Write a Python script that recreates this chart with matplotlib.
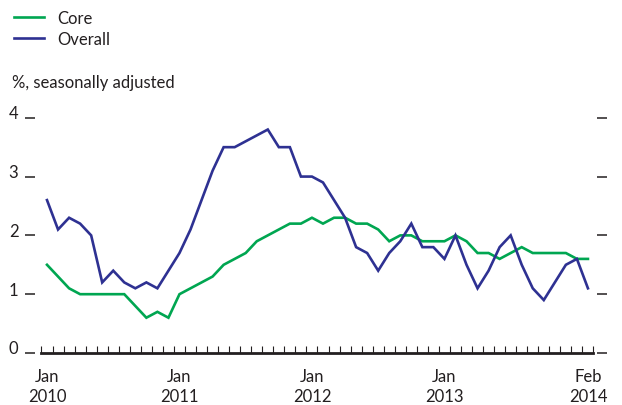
import matplotlib
matplotlib.use("Agg")
import matplotlib.pyplot as plt
import matplotlib.transforms as mtransforms
import numpy as np

# Monthly data, Jan 2010 - Feb 2014
core = [1.5, 1.3, 1.1, 1.0, 1.0, 1.0, 1.0, 1.0, 0.8, 0.6, 0.7, 0.6,
        1.0, 1.1, 1.2, 1.3, 1.5, 1.6, 1.7, 1.9, 2.0, 2.1, 2.2, 2.2,
        2.3, 2.2, 2.3, 2.3, 2.2, 2.2, 2.1, 1.9, 2.0, 2.0, 1.9, 1.9,
        1.9, 2.0, 1.9, 1.7, 1.7, 1.6, 1.7, 1.8, 1.7, 1.7, 1.7, 1.7,
        1.6, 1.6]
overall = [2.6, 2.1, 2.3, 2.2, 2.0, 1.2, 1.4, 1.2, 1.1, 1.2, 1.1, 1.4,
           1.7, 2.1, 2.6, 3.1, 3.5, 3.5, 3.6, 3.7, 3.8, 3.5, 3.5, 3.0,
           3.0, 2.9, 2.6, 2.3, 1.8, 1.7, 1.4, 1.7, 1.9, 2.2, 1.8, 1.8,
           1.6, 2.0, 1.5, 1.1, 1.4, 1.8, 2.0, 1.5, 1.1, 0.9, 1.2, 1.5,
           1.6, 1.1]
xtick_pos = [0, 12, 24, 36, 49]
xtick_labels = ["Jan\n2010", "Jan\n2011", "Jan\n2012", "Jan\n2013", "Feb\n2014"]
yticks = [0, 1, 2, 3, 4]

plt.rcParams['font.family'] = ['Lato', 'DejaVu Sans']
text_color = '#231f20'
green = '#00a651'
blue = '#2e3192'
fs = 12

W, H = 622, 406
fig = plt.figure(figsize=(W / 100, H / 100), dpi=100)
ax_left, ax_right = 35, 597
ax_bottom, ax_top = 354, 107
ax = fig.add_axes([ax_left / W, 1 - ax_bottom / H, (ax_right - ax_left) / W, (ax_bottom - ax_top) / H])

x = np.arange(len(core))
ax.plot(x, core, color=green, lw=1.9, label='Core', solid_joinstyle='miter')
ax.plot(x, overall, color=blue, lw=1.9, label='Overall', solid_joinstyle='miter')

ax.set_xlim(-1.087, 49.82)
ax.set_ylim(0, 4.2)

for s in ['top', 'left', 'right']:
    ax.spines[s].set_visible(False)
ax.spines['bottom'].set_bounds(-0.5, 49.5)
ax.spines['bottom'].set_linewidth(2.0)
ax.spines['bottom'].set_color(text_color)

ax.set_xticks(xtick_pos)
ax.set_xticklabels(xtick_labels, fontsize=fs, color=text_color, linespacing=1.3)
ax.set_xticks(np.arange(-0.5, 50, 1), minor=True)
ax.tick_params(axis='x', which='major', length=0, pad=11)
ax.tick_params(axis='x', which='minor', direction='in', length=5, width=0.8, color=text_color)

ax.set_yticks(yticks)
ax.set_yticklabels([str(v) for v in yticks], fontsize=fs, color=text_color)
ax.tick_params(axis='y', which='major', direction='out', length=7, width=1.1, color=text_color,
               left=True, right=True, pad=5)
offset = mtransforms.ScaledTranslation(0, 6 / 100, fig.dpi_scale_trans)
for lab in ax.get_yticklabels():
    lab.set_transform(lab.get_transform() + offset)

leg = fig.legend(loc='upper left', bbox_to_anchor=(2 / W, 1 + 1 / H), frameon=False,
                 fontsize=fs, handlelength=1.8, handletextpad=0.8, labelspacing=0.3,
                 borderpad=0.2)
for t in leg.get_texts():
    t.set_color(text_color)

fig.text(12 / W, 1 - 83 / H, '%, seasonally adjusted', fontsize=fs, color=text_color,
         va='center', ha='left')

fig.savefig('out.png', dpi=100)
